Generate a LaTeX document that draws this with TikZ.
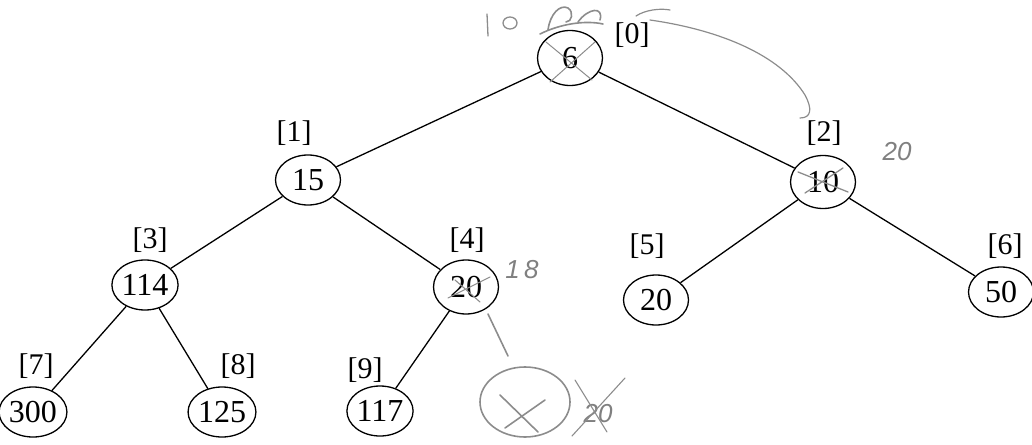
\documentclass[tikz,border=0pt]{standalone}
\usepackage{fontspec}
\usetikzlibrary{shapes.geometric}
\setmainfont{Liberation Serif}
\newfontfamily\handfont{Liberation Sans}
\begin{document}
\begin{tikzpicture}[x=1pt,y=-1pt,
  hnode/.style={draw,ellipse,line width=1.3pt,minimum width=65pt,minimum height=50pt,inner sep=0pt,font=\fontsize{32}{34}\selectfont},
  idx/.style={font=\fontsize{30}{32}\selectfont,inner sep=0pt},
  edge/.style={line width=1.3pt},
  hand/.style={draw=black!45,line width=1.6pt,line cap=round,line join=round},
  handtxt/.style={text=black!50,font=\handfont\itshape\fontsize{26}{28}\selectfont,inner sep=0pt}]
\useasboundingbox (0,0) rectangle (1032,444);
% nodes
\node[hnode,minimum height=55pt] (n0) at (570,58) {6};
\node[hnode] (n1) at (308,180) {15};
\node[hnode,minimum height=53pt] (n2) at (823,182) {10};
\node[hnode] (n3) at (145,285) {114};
\node[hnode,minimum height=54pt] (n4) at (466,287) {20};
\node[hnode] (n5) at (656,300) {20};
\node[hnode] (n6) at (1001,292) {50};
\node[hnode] (n7) at (33,412) {300};
\node[hnode] (n8) at (222,412) {125};
\node[hnode] (n9) at (380,411) {117};
% indices
\node[idx] (i0) at (632,35) {[0]};
\node[idx] (i1) at (294,133) {[1]};
\node[idx] (i2) at (824,133) {[2]};
\node[idx] (i3) at (150,240) {[3]};
\node[idx] (i4) at (467,240) {[4]};
\node[idx] (i5) at (647,246) {[5]};
\node[idx] (i6) at (1005,246) {[6]};
\node[idx] (i7) at (36,366) {[7]};
\node[idx] (i8) at (238,366) {[8]};
\node[idx] (i9) at (365,370) {[9]};
% edges
\draw[edge] (n0) -- (n1);
\draw[edge] (n0) -- (n2);
\draw[edge] (n1) -- (n3);
\draw[edge] (n1) -- (n4);
\draw[edge] (n2) -- (n5);
\draw[edge] (n2) -- (n6);
\draw[edge] (n3) -- (n7);
\draw[edge] (n3) -- (n8);
\draw[edge] (n4) -- (n9);
% handwritten annotations
\draw[hand,line width=1.3pt] (487,14) -- (488,36);
\draw[hand,line width=1.3pt] (510,23) ellipse (7pt and 6pt);
\draw[hand] (540,34) .. controls (560,24) and (585,20) .. (603,24);
\draw[hand] (548,30) .. controls (550,14) and (560,4) .. (568,8) .. controls (574,12) and (572,22) .. (566,22);
\draw[hand] (578,22) .. controls (588,8) and (604,6) .. (600,20);
\draw[hand,line width=1pt] (546,42) -- (592,80);
\draw[hand,line width=1pt] (595,42) -- (550,82);
\draw[hand,line width=1.2pt] (636,16) .. controls (645,10) and (660,8) .. (670,10);
\draw[hand,line width=1.2pt] (650,20) .. controls (720,30) and (780,55) .. (805,95) .. controls (812,108) and (812,118) .. (800,118);
\node[handtxt] (h20) at (897,152) {20};
\draw[hand,line width=1.3pt] (798,172) -- (848,192);
\draw[hand,line width=1.3pt] (805,193) -- (843,168);
\draw[hand,line width=1.1pt] (448,298) -- (490,277);
\draw[hand,line width=1.1pt] (455,280) -- (480,302);
\node[handtxt] (h18) at (522,270) {1\,8};
\draw[hand] (488,314) -- (508,356);
\draw[hand] (525,402) ellipse (45pt and 35pt);
\draw[hand] (500,395) -- (538,432);
\draw[hand] (505,428) -- (545,400);
\node[handtxt] (h20b) at (598,414) {20};
\draw[hand,line width=1.1pt] (575,380) -- (607,432);
\draw[hand,line width=1.1pt] (625,378) -- (572,436);
\end{tikzpicture}
\end{document}
